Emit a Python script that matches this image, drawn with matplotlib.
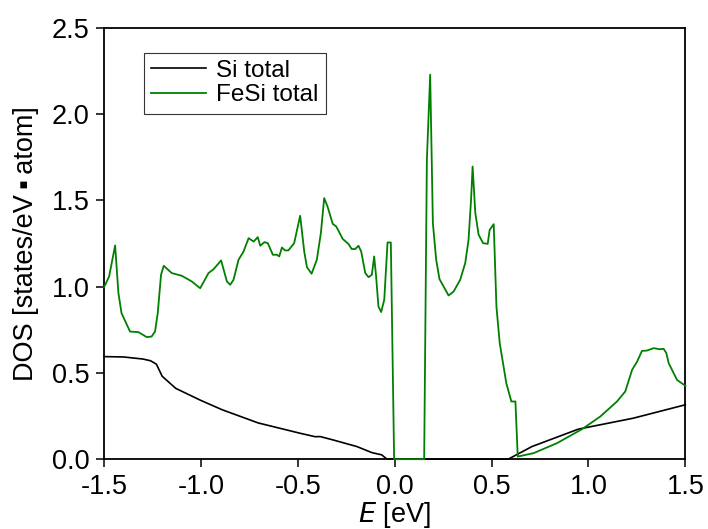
import matplotlib
matplotlib.use("Agg")
import matplotlib.pyplot as plt

plt.rcParams['font.family'] = ['Liberation Sans', 'DejaVu Sans']

# Si total DOS
si_e = [-1.5, -1.40, -1.30, -1.26, -1.23, -1.20, -1.13, -1.0, -0.89, -0.705,
        -0.488, -0.41, -0.385, -0.32, -0.195, -0.118, -0.067, -0.04,
        0.0, 0.3, 0.586, 0.708, 0.948, 1.23, 1.5]
si_dos = [0.594, 0.592, 0.58, 0.57, 0.55, 0.48, 0.41, 0.34, 0.286, 0.21,
          0.15, 0.13, 0.131, 0.112, 0.073, 0.038, 0.025, 0.0,
          0.0, 0.0, 0.0, 0.073, 0.174, 0.237, 0.315]

# FeSi total DOS
fesi_e = [-1.5, -1.474, -1.443, -1.426, -1.41, -1.366, -1.323, -1.28, -1.255,
          -1.237, -1.223, -1.206, -1.192, -1.151, -1.099, -1.047, -1.004,
          -0.961, -0.935, -0.896, -0.866, -0.849, -0.832, -0.806, -0.78,
          -0.754, -0.728, -0.707, -0.694, -0.672, -0.655, -0.629, -0.608,
          -0.596, -0.582, -0.566, -0.549, -0.519, -0.488, -0.467, -0.453,
          -0.429, -0.402, -0.381, -0.364, -0.347, -0.32, -0.302, -0.268,
          -0.239, -0.222, -0.204, -0.187, -0.173, -0.152, -0.135, -0.118,
          -0.106, -0.096, -0.084, -0.070, -0.054, -0.037, -0.020, -0.003,
          0.152, 0.166, 0.183, 0.197, 0.214, 0.231, 0.278, 0.304, 0.338,
          0.364, 0.381, 0.394, 0.402, 0.416, 0.433, 0.456, 0.48, 0.49,
          0.511, 0.525, 0.542, 0.576, 0.602, 0.623, 0.635, 0.717, 0.838,
          0.967, 1.061, 1.147, 1.19, 1.225, 1.251, 1.276, 1.302, 1.336,
          1.367, 1.388, 1.402, 1.414, 1.457, 1.5]
fesi_dos = [0.996, 1.058, 1.238, 0.962, 0.846, 0.739, 0.736, 0.707, 0.71,
            0.739, 0.846, 1.068, 1.12, 1.078, 1.062, 1.029, 0.99,
            1.078, 1.10, 1.151, 1.029, 1.01, 1.039, 1.155, 1.203,
            1.28, 1.26, 1.286, 1.236, 1.257, 1.251, 1.184, 1.184,
            1.174, 1.226, 1.209, 1.209, 1.251, 1.41, 1.203, 1.112,
            1.074, 1.155, 1.31, 1.512, 1.464, 1.363, 1.348, 1.275,
            1.247, 1.217, 1.217, 1.236, 1.203, 1.078, 1.054, 1.068,
            1.174, 1.058, 0.884, 0.852, 0.923, 1.255, 1.255, 0.0,
            0.0, 1.734, 2.227, 1.367, 1.155, 1.043, 0.948, 0.971, 1.039,
            1.136, 1.27, 1.502, 1.695, 1.425, 1.3, 1.251, 1.247, 1.328,
            1.361, 0.884, 0.672, 0.44, 0.334, 0.334, 0.015, 0.035, 0.093,
            0.174, 0.247, 0.334, 0.392, 0.517, 0.565, 0.627, 0.629, 0.643,
            0.637, 0.639, 0.614, 0.556, 0.459, 0.425]

xticks = [-1.5, -1.0, -0.5, 0.0, 0.5, 1.0, 1.5]
yticks = [0.0, 0.5, 1.0, 1.5, 2.0, 2.5]

fig = plt.figure(figsize=(7.08, 5.29), dpi=100)
ax = fig.add_axes([0.147, 0.132, 0.821, 0.816])

# lines drawn on top of the spines so the zero gap shows in green
ax.plot(si_e, si_dos, color='black', lw=1.2, label='Si total',
        zorder=3, clip_on=False)
ax.plot(fesi_e, fesi_dos, color='green', lw=1.3, label='FeSi total',
        zorder=4, clip_on=False)

ax.set_xlim(-1.5, 1.5)
ax.set_ylim(0, 2.5)
ax.set_xticks(xticks)
ax.set_yticks(yticks)
ax.set_xticklabels(['%.1f' % v for v in xticks])
ax.set_yticklabels(['%.1f' % v for v in yticks])
ax.tick_params(axis='both', which='major', direction='out', length=5.5,
               width=1.1, labelsize=19.5, pad=5)
for s in ax.spines.values():
    s.set_linewidth(1.3)
    s.set_zorder(2.5)

ax.set_xlabel(r'$\mathit{E}$ [eV]', fontsize=19.5, labelpad=0)
ax.set_ylabel('DOS [states/eV\u2009\u25aa\u2009atom]', fontsize=19.5, labelpad=9)

leg = ax.legend(loc='upper left', bbox_to_anchor=(0.069, 0.942), fontsize=17.5,
                frameon=True, fancybox=False, edgecolor='black',
                handlelength=2.25, borderpad=0.3, labelspacing=0.1,
                handletextpad=0.4, borderaxespad=0)
leg.get_frame().set_linewidth(0.8)

fig.savefig('out.png', dpi=100)
